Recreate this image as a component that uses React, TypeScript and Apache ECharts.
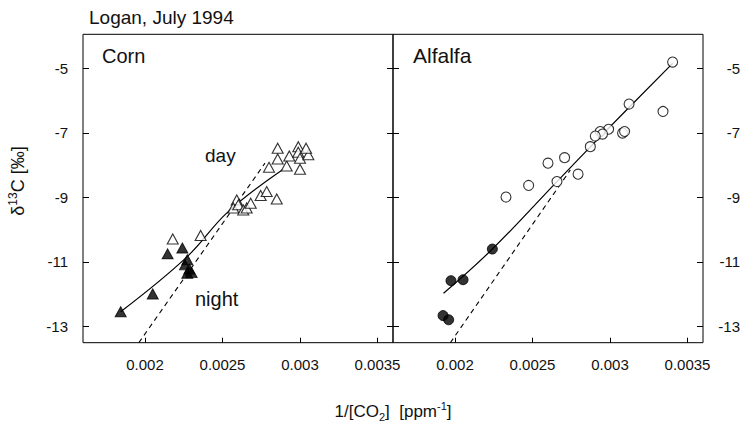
import React, { useEffect, useRef } from "react";
import * as echarts from "echarts";

// x = 1/[CO2] (ppm^-1), y = δ13C (‰)
const cornDay: [number, number][] = [
  [0.002179, -10.29], [0.002359, -10.18], [0.002592, -9.08], [0.00257, -9.33],
  [0.002602, -9.23], [0.002634, -9.39], [0.002656, -9.33], [0.002682, -9.18],
  [0.002746, -8.94], [0.002785, -8.82], [0.00285, -9.05], [0.0028, -8.07],
  [0.002856, -7.48], [0.002856, -7.81], [0.002914, -8.03], [0.002931, -7.72],
  [0.002989, -7.43], [0.002989, -7.6], [0.003, -8.13], [0.003, -7.79],
  [0.003054, -7.68], [0.003039, -7.48],
];
const cornNight: [number, number][] = [
  [0.001843, -12.54], [0.00205, -11.99], [0.002146, -10.75], [0.002241, -10.57],
  [0.002273, -10.93], [0.002258, -11.09], [0.002286, -11.22], [0.002301, -11.33],
  [0.002273, -11.35],
];
const cornFit: [number, number][] = [
  [0.001843, -12.54], [0.002269, -10.85], [0.002537, -9.44], [0.002892, -8.13],
];
const cornDashed: [number, number][] = [
  [0.00196, -13.5], [0.002774, -7.94],
];

const alfalfaDay: [number, number][] = [
  [0.003404, -4.81], [0.003342, -6.34], [0.003123, -6.11], [0.002991, -6.89],
  [0.002937, -6.96], [0.002952, -7.04], [0.002905, -7.1], [0.003081, -7.01],
  [0.003094, -6.96], [0.002873, -7.43], [0.002707, -7.77], [0.002794, -8.28],
  [0.0026, -7.94], [0.002658, -8.51], [0.002475, -8.63], [0.002329, -8.99],
];
const alfalfaNight: [number, number][] = [
  [0.002241, -10.6], [0.002052, -11.55], [0.001974, -11.58], [0.001923, -12.66],
  [0.001959, -12.79],
];
const alfalfaFit: [number, number][] = [
  [0.001926, -11.97], [0.002241, -10.6], [0.002658, -8.51], [0.002952, -7.05],
  [0.003404, -4.85],
];
const alfalfaDashed: [number, number][] = [
  [0.00197, -13.5], [0.002744, -8.15],
];

const xTicks = [0.002, 0.0025, 0.003, 0.0035];
const yTicks = [-13, -11, -9, -7, -5];
const xMin = 0.0016;
const xMax = 0.0036;
const yMin = -13.5;
const yMax = -3.95;

const FONT = "'Liberation Sans', Arial, Helvetica, sans-serif";

export default function App() {
  const ref = useRef<HTMLDivElement>(null);
  useEffect(() => {
    if (!ref.current) return;
    const chart = echarts.init(ref.current, null, { renderer: "svg" });

    const xAxisBase = (gridIndex: number) => ({
      type: "value" as const,
      gridIndex,
      min: xMin,
      max: xMax,
      axisLine: { show: false },
      splitLine: { show: false },
      axisTick: {
        show: true,
        inside: true,
        length: 5,
        customValues: xTicks,
        lineStyle: { color: "#000", width: 1 },
      },
      axisLabel: {
        show: true,
        customValues: xTicks,
        margin: 14,
        fontSize: 15,
        fontFamily: FONT,
        color: "#111",
        formatter: (v: number) => String(v),
      },
    });

    const yAxisBase = (
      gridIndex: number,
      position: "left" | "right",
      showLabel: boolean
    ) => ({
      type: "value" as const,
      gridIndex,
      position,
      min: yMin,
      max: yMax,
      axisLine: { show: false },
      splitLine: { show: false },
      axisTick: {
        show: true,
        inside: true,
        length: 6,
        customValues: yTicks,
        lineStyle: { color: "#000", width: 1 },
      },
      axisLabel: {
        show: showLabel,
        customValues: yTicks,
        margin: position === "left" ? 15 : 37,
        align: "right" as const,
        fontSize: 15,
        fontFamily: FONT,
        color: "#111",
        formatter: (v: number) => String(v),
      },
    });

    const openTri = {
      type: "scatter" as const,
      symbol: "triangle",
      symbolSize: [11, 10],
      itemStyle: { color: "#fff", borderColor: "#000", borderWidth: 1.1 },
      z: 5,
    };
    const fillTri = {
      type: "scatter" as const,
      symbol: "triangle",
      symbolSize: [11, 10],
      itemStyle: { color: "#000", borderColor: "#000", borderWidth: 1 },
      z: 6,
    };
    const openCirc = {
      type: "scatter" as const,
      symbol: "circle",
      symbolSize: 10,
      itemStyle: { color: "#fff", borderColor: "#000", borderWidth: 1.1 },
      z: 5,
    };
    const fillCirc = {
      type: "scatter" as const,
      symbol: "circle",
      symbolSize: 10,
      itemStyle: { color: "#000", borderColor: "#000", borderWidth: 1 },
      z: 6,
    };
    const solid = {
      type: "line" as const,
      symbol: "none",
      smooth: 0.4,
      lineStyle: { color: "#000", width: 1.2 },
      z: 3,
    };
    const dashed = {
      type: "line" as const,
      symbol: "none",
      lineStyle: { color: "#000", width: 1.1, type: [5, 4] as any },
      z: 3,
    };

    chart.setOption({
      animation: false,
      backgroundColor: "#fff",
      grid: [
        { left: 83, top: 34.3, width: 310, height: 308.4, show: true, borderColor: "#000", borderWidth: 1, backgroundColor: "transparent" },
        { left: 393, top: 34.3, width: 310.3, height: 308.4, show: true, borderColor: "#000", borderWidth: 1, backgroundColor: "transparent" },
      ],
      xAxis: [xAxisBase(0), xAxisBase(1)],
      yAxis: [
        yAxisBase(0, "left", true),
        yAxisBase(0, "right", false),
        yAxisBase(1, "left", false),
        yAxisBase(1, "right", true),
      ],
      series: [
        { ...solid, name: "Corn fit", xAxisIndex: 0, yAxisIndex: 0, data: cornFit },
        { ...dashed, name: "Corn dashed", xAxisIndex: 0, yAxisIndex: 0, data: cornDashed },
        { ...openTri, name: "Corn day", xAxisIndex: 0, yAxisIndex: 0, data: cornDay },
        { ...fillTri, name: "Corn night", xAxisIndex: 0, yAxisIndex: 0, data: cornNight },
        { ...solid, name: "Alfalfa fit", xAxisIndex: 1, yAxisIndex: 3, data: alfalfaFit },
        { ...dashed, name: "Alfalfa dashed", xAxisIndex: 1, yAxisIndex: 3, data: alfalfaDashed },
        { ...openCirc, name: "Alfalfa day", xAxisIndex: 1, yAxisIndex: 3, data: alfalfaDay },
        { ...fillCirc, name: "Alfalfa night", xAxisIndex: 1, yAxisIndex: 3, data: alfalfaNight },
      ],
      graphic: [
        {
          type: "text",
          left: 89,
          top: 8,
          style: { text: "Logan, July 1994", fontSize: 19, fontFamily: FONT, fill: "#111" },
        },
        {
          type: "text",
          x: 102,
          y: 55.5,
          style: { text: "Corn", fontSize: 20, fontFamily: FONT, fill: "#111", textVerticalAlign: "middle" },
        },
        {
          type: "text",
          x: 413,
          y: 55.5,
          style: { text: "Alfalfa", fontSize: 21, fontFamily: FONT, fill: "#111", textVerticalAlign: "middle" },
        },
        {
          type: "text",
          x: 205,
          y: 155,
          style: { text: "day", fontSize: 19, fontFamily: FONT, fill: "#111", textVerticalAlign: "middle" },
        },
        {
          type: "text",
          x: 195,
          y: 299,
          style: { text: "night", fontSize: 20, fontFamily: FONT, fill: "#111", textVerticalAlign: "middle" },
        },
        {
          type: "text",
          x: 18,
          y: 181,
          rotation: Math.PI / 2,
          style: {
            text: "{n|δ}{sup|13}{n|C [‰]}",
            align: "center",
            verticalAlign: "middle",
            fontFamily: FONT,
            fill: "#111",
            rich: {
              n: { fontSize: 18, lineHeight: 22, fontFamily: FONT, fill: "#111" },
              sup: { fontSize: 12, verticalAlign: "top", fontFamily: FONT, fill: "#111" },
            },
          },
        },
        {
          type: "text",
          x: 393,
          y: 411,
          style: {
            text: "{n|1/[CO}{sub|2}{n|]  [ppm}{sup|-1}{n|]}",
            align: "center",
            verticalAlign: "middle",
            fontFamily: FONT,
            fill: "#111",
            rich: {
              n: { fontSize: 17, lineHeight: 22, fontFamily: FONT, fill: "#111" },
              sub: { fontSize: 11, verticalAlign: "bottom", fontFamily: FONT, fill: "#111" },
              sup: { fontSize: 11, verticalAlign: "top", fontFamily: FONT, fill: "#111" },
            },
          },
        },
      ],
    });

    return () => chart.dispose();
  }, []);

  return (
    <div
      ref={ref}
      style={{ position: "fixed", left: 0, top: 0, width: 743, height: 428, background: "#fff" }}
    />
  );
}
